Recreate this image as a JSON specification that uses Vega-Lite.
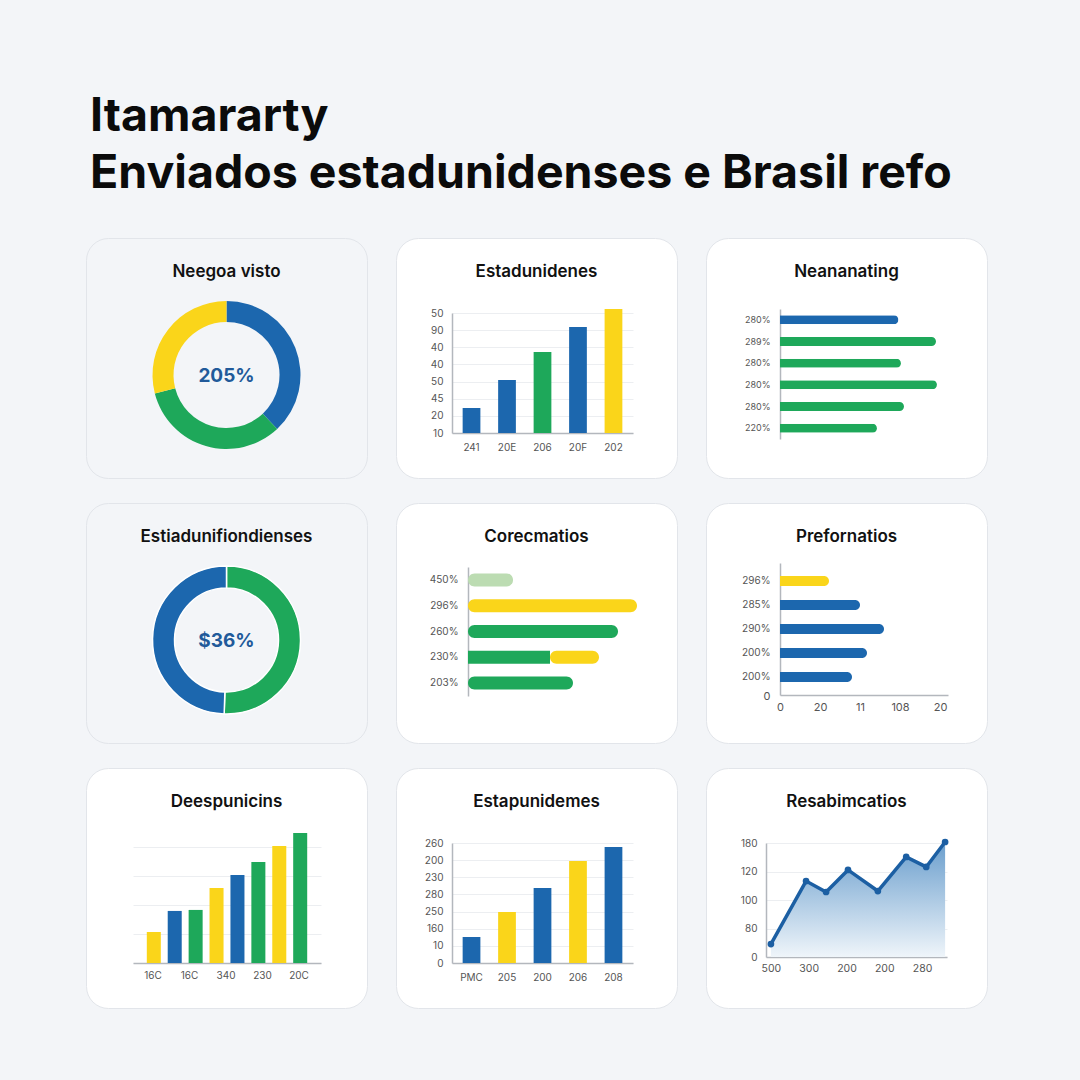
{
  "$schema": "https://vega.github.io/schema/vega-lite/v6.json",
  "background": "#f3f5f8",
  "padding": {"left": 85, "top": 94, "right": 95, "bottom": 75},
  "title": {
    "text": ["Itamararty", "Enviados estadunidenses e Brasil refo"],
    "anchor": "start",
    "frame": "group",
    "font": "Inter",
    "fontSize": 46.5,
    "fontWeight": 700,
    "color": "#0b0b0b",
    "lineHeight": 57,
    "offset": 40,
    "dx": 4
  },
  "config": {
    "view": {"fill": "white", "stroke": "#e2e5ea", "strokeWidth": 1, "cornerRadius": 22},
    "title": {"font": "Inter", "fontSize": 17, "fontWeight": 600, "color": "#111111", "anchor": "middle"},
    "axis": {
      "labelFont": "Inter",
      "labelColor": "#555555",
      "labelFontSize": 10,
      "domainColor": "#b3b7bd",
      "domainWidth": 1.5,
      "gridColor": "#eceef1",
      "grid": false,
      "ticks": false,
      "title": null,
      "labelFlush": false,
      "labelOverlap": false,
      "labelBound": false
    }
  },
  "columns": 3,
  "spacing": {"row": 23, "column": 27},
  "concat": [
    {
      "width": 281, "height": 240,
      "title": {"text": "Neegoa visto", "offset": -43},
      "data": {"values": [
        {"seg": 1, "value": 38, "c": "#1c67ae", "center": "205%"},
        {"seg": 2, "value": 33, "c": "#1ea85a", "center": "205%"},
        {"seg": 3, "value": 29, "c": "#fad51a", "center": "205%"}
      ]},
      "layer": [
        {
          "transform": [{"filter": "datum.seg == 1"}],
          "mark": {"type": "point", "opacity": 0, "size": 1},
          "encoding": {
            "x": {"datum": 0, "type": "quantitative", "axis": null, "scale": {"domain": [-1, 1]}},
            "y": {"datum": 0, "type": "quantitative", "axis": null, "scale": {"domain": [-1, 1]}}
          }
        },
        {
          "mark": {"type": "arc", "innerRadius": 53, "outerRadius": 74, "yOffset": 17},
          "encoding": {
            "theta": {"field": "value", "type": "quantitative", "stack": true},
            "order": {"field": "seg", "type": "quantitative"},
            "color": {"field": "c", "type": "nominal", "scale": null}
          }
        },
        {
          "transform": [{"filter": "datum.seg == 1"}],
          "mark": {"type": "text", "font": "Inter", "fontSize": 19, "fontWeight": 700, "color": "#215a9a", "dy": 18},
          "encoding": {"text": {"field": "center"}}
        }
      ]
    },
    {
      "width": 281, "height": 240,
      "title": {"text": "Estadunidenes", "offset": -43},
      "data": {"values": [
        {"k": "241", "v": 24.6, "c": "#1c67ae"},
        {"k": "20E", "v": 40.9, "c": "#1c67ae"},
        {"k": "206", "v": 57.3, "c": "#1ea85a"},
        {"k": "20F", "v": 71.8, "c": "#1c67ae"},
        {"k": "202", "v": 82.3, "c": "#fad51a"}
      ]},
      "mark": {"type": "bar"},
      "encoding": {
        "x": {"field": "k", "type": "nominal", "sort": null,
              "scale": {"range": [56, 237], "paddingInner": 0.5, "paddingOuter": 0.3},
              "axis": {"offset": -45, "labelAngle": 0, "labelPadding": 9}},
        "y": {"field": "v", "type": "quantitative",
              "scale": {"domain": [10, 80], "range": [195, 75], "nice": false, "zero": false},
              "axis": {"offset": -56, "values": [10, 20, 30, 40, 50, 60, 70, 80], "grid": true, "labelPadding": 9,
                       "labelExpr": "['10','20','45','50','40','40','90','50'][round((datum.value-10)/10)]"}},
        "y2": {"datum": 10},
        "color": {"field": "c", "type": "nominal", "scale": null}
      }
    },
    {
      "width": 281, "height": 240,
      "title": {"text": "Neananating", "offset": -43},
      "data": {"values": [
        {"r": 1, "v": 74, "c": "#1c67ae"},
        {"r": 2, "v": 97.5, "c": "#1ea85a"},
        {"r": 3, "v": 75.6, "c": "#1ea85a"},
        {"r": 4, "v": 98.1, "c": "#1ea85a"},
        {"r": 5, "v": 77.5, "c": "#1ea85a"},
        {"r": 6, "v": 60.6, "c": "#1ea85a"}
      ]},
      "mark": {"type": "bar", "size": 9, "cornerRadiusEnd": 4.5},
      "encoding": {
        "y": {"field": "r", "type": "ordinal",
              "scale": {"range": [71, 201], "paddingInner": 0, "paddingOuter": 0},
              "axis": {"offset": -74, "labelPadding": 10, "labelFontSize": 9,
                       "labelExpr": "['280%','289%','280%','280%','280%','220%'][datum.value-1]"}},
        "x": {"field": "v", "type": "quantitative",
              "scale": {"domain": [0, 100], "range": [74, 234], "nice": false},
              "axis": null},
        "color": {"field": "c", "type": "nominal", "scale": null}
      }
    },
    {
      "width": 281, "height": 240,
      "title": {"text": "Estiadunifiondienses", "offset": -43},
      "data": {"values": [
        {"seg": 1, "value": 50.5, "c": "#1ea85a", "center": "$36%"},
        {"seg": 2, "value": 49.5, "c": "#1c67ae", "center": "$36%"}
      ]},
      "layer": [
        {
          "transform": [{"filter": "datum.seg == 1"}],
          "mark": {"type": "point", "opacity": 0, "size": 1},
          "encoding": {
            "x": {"datum": 0, "type": "quantitative", "axis": null, "scale": {"domain": [-1, 1]}},
            "y": {"datum": 0, "type": "quantitative", "axis": null, "scale": {"domain": [-1, 1]}}
          }
        },
        {
          "mark": {"type": "arc", "innerRadius": 52, "outerRadius": 74, "yOffset": 17, "stroke": "white", "strokeWidth": 1.5},
          "encoding": {
            "theta": {"field": "value", "type": "quantitative", "stack": true},
            "order": {"field": "seg", "type": "quantitative"},
            "color": {"field": "c", "type": "nominal", "scale": null}
          }
        },
        {
          "transform": [{"filter": "datum.seg == 1"}],
          "mark": {"type": "text", "font": "Inter", "fontSize": 19, "fontWeight": 700, "color": "#215a9a", "dy": 18},
          "encoding": {"text": {"field": "center"}}
        }
      ]
    },
    {
      "width": 281, "height": 240,
      "title": {"text": "Corecmatios", "offset": -43},
      "data": {"values": [
        {"r": 1, "x0": 0, "x1": 45, "c": "#bcdcb2", "cap": 1},
        {"r": 2, "x0": 0, "x1": 169, "c": "#fad51a", "cap": 1},
        {"r": 3, "x0": 0, "x1": 150, "c": "#1ea85a", "cap": 1},
        {"r": 4, "x0": 82, "x1": 131, "c": "#fad51a", "cap": 1},
        {"r": 4, "x0": 0, "x1": 82, "c": "#1ea85a", "cap": 0},
        {"r": 5, "x0": 0, "x1": 105, "c": "#1ea85a", "cap": 1}
      ]},
      "encoding": {
        "y": {"field": "r", "type": "ordinal",
              "scale": {"range": [64, 193], "paddingInner": 0, "paddingOuter": 0},
              "axis": {"offset": -72, "labelPadding": 10,
                       "labelExpr": "['450%','296%','260%','230%','203%'][datum.value-1]"}},
        "x": {"field": "x0", "type": "quantitative",
              "scale": {"domain": [0, 200], "range": [72, 272], "nice": false},
              "axis": null},
        "x2": {"field": "x1"},
        "color": {"field": "c", "type": "nominal", "scale": null}
      },
      "layer": [
        {"transform": [{"filter": "datum.cap == 1"}], "mark": {"type": "bar", "size": 13, "cornerRadiusEnd": 6.5}},
        {"transform": [{"filter": "datum.cap == 0"}], "mark": {"type": "bar", "size": 13}}
      ]
    },
    {
      "width": 281, "height": 240,
      "title": {"text": "Prefornatios", "offset": -43},
      "data": {"values": [
        {"r": 1, "v": 24.5, "c": "#fad51a"},
        {"r": 2, "v": 40, "c": "#1c67ae"},
        {"r": 3, "v": 52, "c": "#1c67ae"},
        {"r": 4, "v": 43.5, "c": "#1c67ae"},
        {"r": 5, "v": 36, "c": "#1c67ae"}
      ]},
      "layer": [
        {
          "mark": {"type": "bar", "size": 10, "cornerRadiusEnd": 5},
          "encoding": {
            "y": {"field": "r", "type": "ordinal",
                  "scale": {"range": [60, 192], "paddingInner": 0, "paddingOuter": 0.25, "align": 0.5},
                  "axis": {"offset": -74, "labelPadding": 10,
                           "labelExpr": "['296%','285%','290%','200%','200%'][datum.value-1]"}},
            "x": {"field": "v", "type": "quantitative",
                  "scale": {"domain": [0, 84], "range": [74, 242], "nice": false},
                  "axis": {"offset": -48, "values": [0, 20, 40, 60, 80], "labelPadding": 6, "labelFontSize": 11, "grid": false,
                           "labelExpr": "['0','20','11','108','20'][round(datum.value/20)]"}},
            "color": {"field": "c", "type": "nominal", "scale": null}
          }
        },
        {
          "data": {"values": [{"t": "0"}]},
          "mark": {"type": "text", "font": "Inter", "fontSize": 11, "color": "#555555", "dx": -13, "dy": 20},
          "encoding": {
            "x": {"datum": 0, "type": "quantitative"},
            "y": {"datum": 5, "type": "ordinal"},
            "text": {"field": "t"}
          }
        }
      ]
    },
    {
      "width": 281, "height": 240,
      "title": {"text": "Deespunicins", "offset": -43},
      "layer": [
        {
          "data": {"values": [
            {"i": 1, "v": 21.4, "c": "#fad51a"},
            {"i": 2, "v": 35.9, "c": "#1c67ae"},
            {"i": 3, "v": 36.6, "c": "#1ea85a"},
            {"i": 4, "v": 51.7, "c": "#fad51a"},
            {"i": 5, "v": 60.7, "c": "#1c67ae"},
            {"i": 6, "v": 69.7, "c": "#1ea85a"},
            {"i": 7, "v": 80.7, "c": "#fad51a"},
            {"i": 8, "v": 89.7, "c": "#1ea85a"}
          ]},
          "mark": {"type": "bar"},
          "encoding": {
            "x": {"field": "i", "type": "ordinal",
                  "scale": {"range": [47, 235], "paddingInner": 0.33, "paddingOuter": 0.66},
                  "axis": {"offset": -45, "labels": false}},
            "y": {"field": "v", "type": "quantitative",
                  "scale": {"domain": [0, 80], "range": [195, 79], "nice": false},
                  "axis": {"values": [0, 20, 40, 60, 80], "grid": true, "labels": false, "domain": false}},
            "color": {"field": "c", "type": "nominal", "scale": null}
          }
        },
        {
          "data": {"values": [
            {"p": 1, "t": "16C"},
            {"p": 2, "t": "16C"},
            {"p": 3, "t": "340"},
            {"p": 4, "t": "230"},
            {"p": 5, "t": "20C"}
          ]},
          "mark": {"type": "text", "font": "Inter", "fontSize": 10, "color": "#555555", "dy": 13},
          "encoding": {
            "x": {"field": "p", "type": "ordinal", "scale": {"range": [67, 213], "padding": 0}, "axis": null},
            "y": {"datum": 0, "type": "quantitative"},
            "text": {"field": "t"}
          }
        }
      ],
      "resolve": {"scale": {"x": "independent"}, "axis": {"x": "independent"}}
    },
    {
      "width": 281, "height": 240,
      "title": {"text": "Estapunidemes", "offset": -43},
      "data": {"values": [
        {"k": "PMC", "v": 15.2, "c": "#1c67ae"},
        {"k": "205", "v": 29.8, "c": "#fad51a"},
        {"k": "200", "v": 43.8, "c": "#1c67ae"},
        {"k": "206", "v": 59.5, "c": "#fad51a"},
        {"k": "208", "v": 67.7, "c": "#1c67ae"}
      ]},
      "mark": {"type": "bar"},
      "encoding": {
        "x": {"field": "k", "type": "nominal", "sort": null,
              "scale": {"range": [56, 237], "paddingInner": 0.5, "paddingOuter": 0.3},
              "axis": {"offset": -45, "labelAngle": 0, "labelPadding": 9}},
        "y": {"field": "v", "type": "quantitative",
              "scale": {"domain": [0, 70], "range": [195, 75], "nice": false},
              "axis": {"offset": -56, "values": [0, 10, 20, 30, 40, 50, 60, 70], "grid": true, "labelPadding": 9,
                       "labelExpr": "['0','10','160','250','280','230','200','260'][round(datum.value/10)]"}},
        "color": {"field": "c", "type": "nominal", "scale": null}
      }
    },
    {
      "width": 281, "height": 240,
      "title": {"text": "Resabimcatios", "offset": -43},
      "data": {"values": [
        {"x": 0, "y": 9.1},
        {"x": 0.93, "y": 53.3},
        {"x": 1.46, "y": 45.6},
        {"x": 2.04, "y": 61.1},
        {"x": 2.83, "y": 46.3},
        {"x": 3.58, "y": 70.2},
        {"x": 4.11, "y": 63.2},
        {"x": 4.61, "y": 80.7}
      ]},
      "encoding": {
        "x": {"field": "x", "type": "quantitative",
              "scale": {"domain": [-0.13, 4.66], "range": [60, 241], "nice": false, "zero": false},
              "axis": {"offset": -51, "values": [0, 1, 2, 3, 4], "labelPadding": 6, "labelFontSize": 10.5, "grid": false,
                       "labelExpr": "['500','300','200','200','280'][round(datum.value)]"}},
        "y": {"field": "y", "type": "quantitative",
              "scale": {"domain": [0, 80], "range": [189, 75], "nice": false},
              "axis": {"offset": -60, "values": [0, 20, 40, 60, 80], "grid": true, "labelPadding": 9,
                       "labelExpr": "['0','80','100','120','180'][round(datum.value/20)]"}}
      },
      "layer": [
        {
          "mark": {"type": "area",
                   "color": {"gradient": "linear", "x1": 0, "y1": 0, "x2": 0, "y2": 1,
                             "stops": [{"offset": 0, "color": "#6a9ecd"}, {"offset": 1, "color": "#eff5fa"}]}}
        },
        {"mark": {"type": "line", "color": "#1c5fa3", "strokeWidth": 3.5}},
        {"mark": {"type": "point", "filled": true, "color": "#1c5fa3", "size": 45, "opacity": 1}}
      ]
    }
  ]
}
